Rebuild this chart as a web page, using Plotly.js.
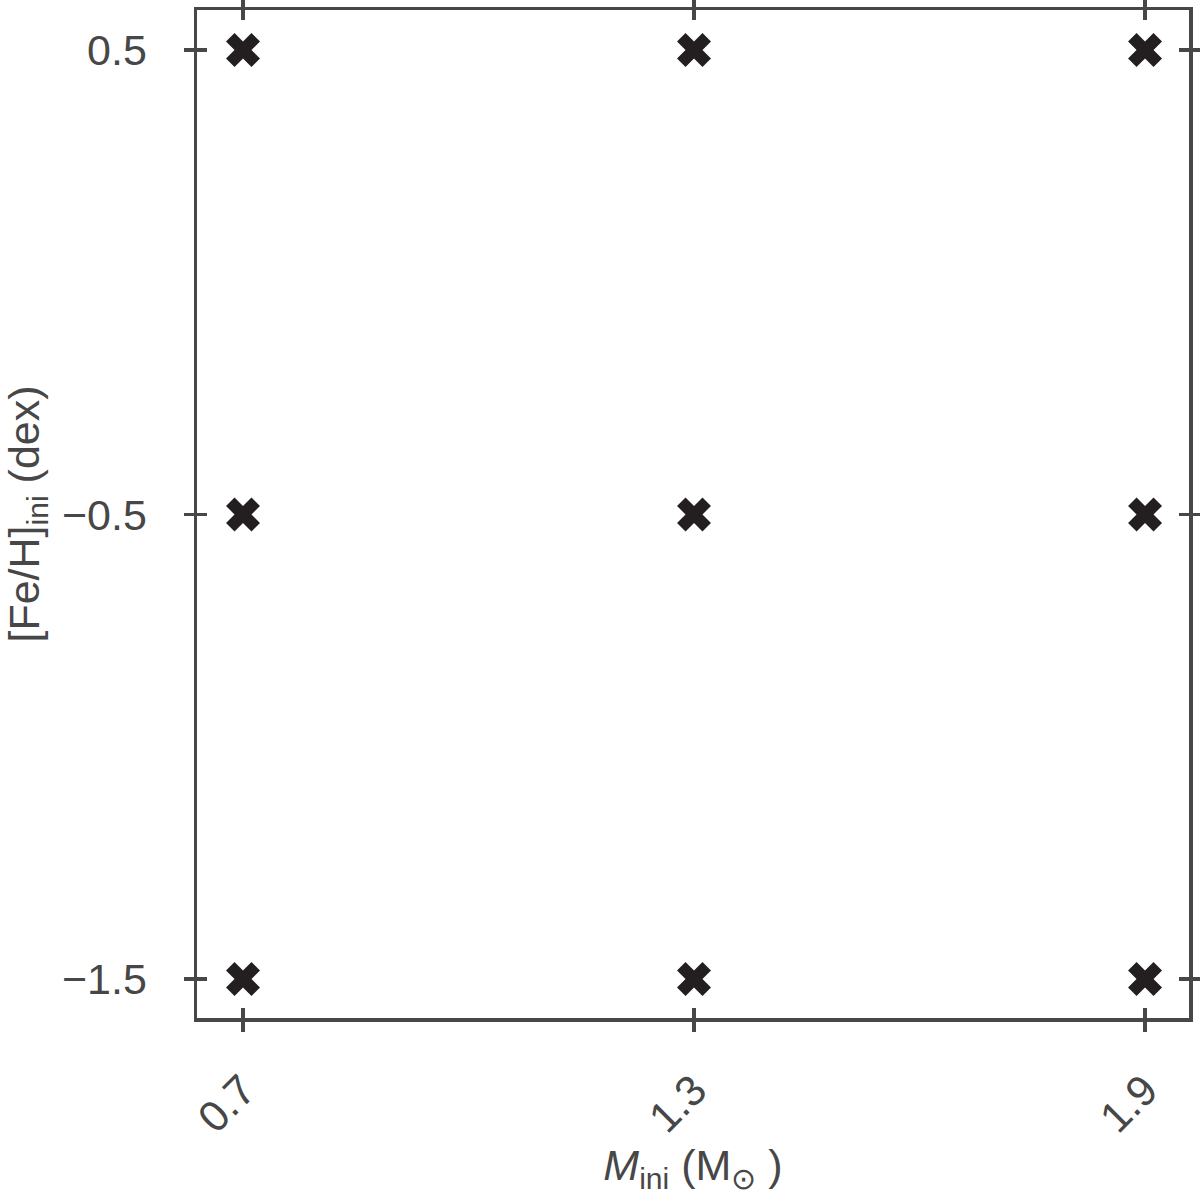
<!DOCTYPE html>
<html>
<head>
<meta charset="utf-8">
<script src="https://cdn.plot.ly/plotly-3.0.1.min.js"></script>
<style>html,body{margin:0;padding:0;background:#fff}</style>
</head>
<body>
<div id="grid" style="width:1200px;height:1198px"></div>
<script>
// model grid: initial mass vs initial metallicity
var massIni = [0.7, 1.3, 1.9, 0.7, 1.3, 1.9, 0.7, 1.3, 1.9];
var fehIni = [0.5, 0.5, 0.5, -0.5, -0.5, -0.5, -1.5, -1.5, -1.5];
var xTicks = [0.7, 1.3, 1.9];
var yTicks = [0.5, -0.5, -1.5];
var xTickText = ['0.7', '1.3', '1.9'];
var yTickText = ['0.5', '\u22120.5', '\u22121.5'];

var axisColor = '#474747';
var fontFam = '"Liberation Sans", Arial, sans-serif';

var trace = {
  type: 'scatter',
  mode: 'markers',
  x: massIni,
  y: fehIni,
  marker: { symbol: 'x', size: 30, color: '#231f20', line: { width: 0 } },
  showlegend: false,
  hoverinfo: 'x+y'
};

// same points on the overlay axes, hidden; only needed so the inner ticks get drawn
var ghost = {
  type: 'scatter',
  mode: 'markers',
  x: massIni,
  y: fehIni,
  xaxis: 'x2',
  yaxis: 'y2',
  marker: { opacity: 0 },
  showlegend: false,
  hoverinfo: 'skip'
};

var xr = [0.6388, 1.9585];
var yr = [-1.584, 0.586];

var layout = {
  width: 1200,
  height: 1198,
  margin: { l: 197, r: 11, t: 10, b: 180 },
  paper_bgcolor: '#fff',
  plot_bgcolor: '#fff',
  font: { family: fontFam, size: 43, color: axisColor },
  xaxis: {
    range: xr,
    tickvals: xTicks,
    ticktext: xTickText,
    tickangle: -45,
    ticks: 'outside',
    ticklen: 10,
    tickwidth: 3.5,
    tickcolor: axisColor,
    showline: true,
    linewidth: 3.5,
    linecolor: axisColor,
    mirror: 'allticks',
    showgrid: false,
    zeroline: false,
    ticklabelstandoff: 16,
    title: { text: '<i>M</i><sub>ini</sub> (M<sub>\u2299</sub> )', standoff: 10, font: { size: 43 } }
  },
  yaxis: {
    range: yr,
    tickvals: yTicks,
    ticktext: yTickText,
    ticks: 'outside',
    ticklen: 10,
    tickwidth: 3.5,
    tickcolor: axisColor,
    showline: true,
    linewidth: 3.5,
    linecolor: axisColor,
    mirror: 'allticks',
    showgrid: false,
    zeroline: false,
    ticklabelstandoff: 28,
    title: { text: '[Fe/H]<sub>ini</sub> (dex)', standoff: 22, font: { size: 43 } }
  },
  xaxis2: {
    overlaying: 'x',
    anchor: 'y2',
    range: xr,
    tickvals: xTicks,
    showticklabels: false,
    ticks: 'inside',
    ticklen: 10,
    tickwidth: 3.5,
    tickcolor: axisColor,
    mirror: 'allticks',
    showline: false,
    showgrid: false,
    zeroline: false
  },
  yaxis2: {
    overlaying: 'y',
    anchor: 'x2',
    range: yr,
    tickvals: yTicks,
    showticklabels: false,
    ticks: 'inside',
    ticklen: 10,
    tickwidth: 3.5,
    tickcolor: axisColor,
    mirror: 'allticks',
    showline: false,
    showgrid: false,
    zeroline: false
  }
};

Plotly.newPlot('grid', [trace, ghost], layout, { displayModeBar: false, staticPlot: true });
</script>
</body>
</html>
